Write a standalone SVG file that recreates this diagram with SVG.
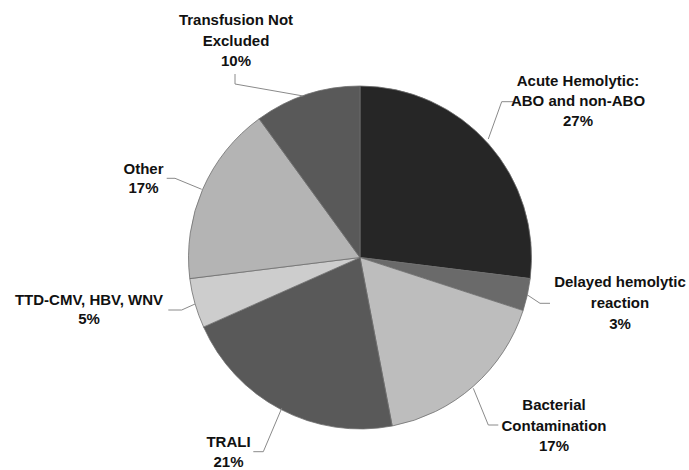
<svg xmlns="http://www.w3.org/2000/svg" width="689" height="470" viewBox="0 0 689 470">
<style>
.lbl{font-family:"Liberation Sans",Arial,sans-serif;font-weight:bold;font-size:15px;fill:#111;text-anchor:middle}
.slice{stroke:#6e6e6e;stroke-width:0.8;stroke-linejoin:round}
.lead{fill:none;stroke:#8a8a8a;stroke-width:1}
</style>
<rect width="689" height="470" fill="#fff"/>
<g id="slices">
<g id="acute"><path class="slice" fill="#262626" d="M360,257.5 L360,86 A171.5,171.5 0 0 1 530.2,278.6 Z"/></g>
<g id="delayed"><path class="slice" fill="#6a6a6a" d="M360,257.5 L530.2,278.6 A171.5,171.5 0 0 1 523.1,310.5 Z"/></g>
<g id="bacterial"><path class="slice" fill="#bdbdbd" d="M360,257.5 L523.1,310.5 A171.5,171.5 0 0 1 392.2,426 Z"/></g>
<g id="trali"><path class="slice" fill="#595959" d="M360,257.5 L392.2,426 A171.5,171.5 0 0 1 203.6,327 Z"/></g>
<g id="ttd"><path class="slice" fill="#cdcdcd" d="M360,257.5 L203.6,327 A171.5,171.5 0 0 1 189.8,278.6 Z"/></g>
<g id="other"><path class="slice" fill="#b4b4b4" d="M360,257.5 L189.8,278.6 A171.5,171.5 0 0 1 259.2,118.8 Z"/></g>
<g id="transfusion"><path class="slice" fill="#595959" d="M360,257.5 L259.2,118.8 A171.5,171.5 0 0 1 360,86 Z"/></g>
</g>
<g id="connectors">
<polyline class="lead" points="235,74 235,84 303.3,96"/>
<polyline class="lead" points="513,101.7 501.7,101.7 488.3,139"/>
<polyline class="lead" points="550,303.3 540,303.3 527.5,295"/>
<polyline class="lead" points="498.3,425 488.3,425 473.3,388.3"/>
<polyline class="lead" points="253.3,451.7 263.3,451.7 281.7,408.3"/>
<polyline class="lead" points="168.3,310 181.7,310 195,304"/>
<polyline class="lead" points="166.7,178.3 175,178.3 201.7,189.3"/>
</g>
<g id="label-transfusion"><text class="lbl" x="236" y="25">Transfusion Not</text><text class="lbl" x="236" y="45.5">Excluded</text><text class="lbl" x="236" y="66">10%</text></g>
<g id="label-acute"><text class="lbl" x="578" y="86">Acute Hemolytic:</text><text class="lbl" x="578" y="106">ABO and non-ABO</text><text class="lbl" x="578" y="126">27%</text></g>
<g id="label-delayed"><text class="lbl" x="620" y="287">Delayed hemolytic</text><text class="lbl" x="620" y="308">reaction</text><text class="lbl" x="620" y="328.5">3%</text></g>
<g id="label-bacterial"><text class="lbl" x="554" y="410">Bacterial</text><text class="lbl" x="554" y="430.5">Contamination</text><text class="lbl" x="554" y="450.5">17%</text></g>
<g id="label-trali"><text class="lbl" x="228.5" y="446.5">TRALI</text><text class="lbl" x="228.5" y="467">21%</text></g>
<g id="label-ttd"><text class="lbl" x="89" y="305">TTD-CMV, HBV, WNV</text><text class="lbl" x="89" y="324">5%</text></g>
<g id="label-other"><text class="lbl" x="143.5" y="173.5">Other</text><text class="lbl" x="143.5" y="193">17%</text></g>
</svg>
